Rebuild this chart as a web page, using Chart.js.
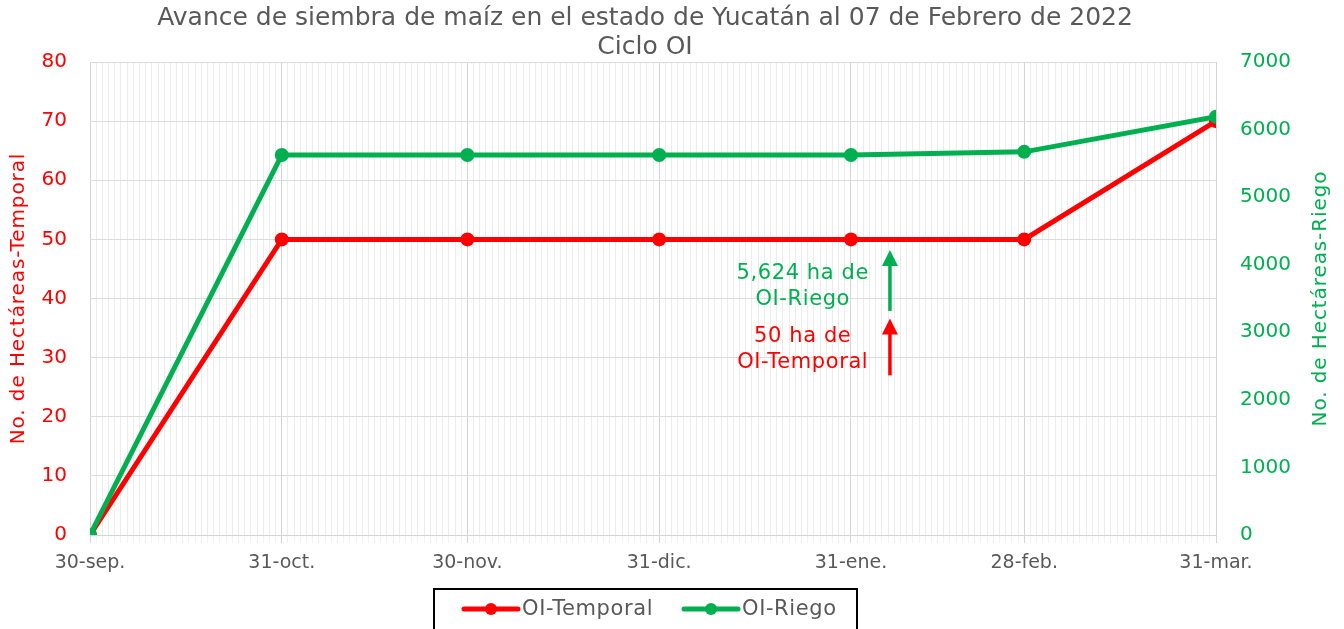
<!DOCTYPE html>
<html>
<head>
<meta charset="utf-8">
<script src="https://cdn.jsdelivr.net/npm/chart.js@4.4.1/dist/chart.umd.min.js"></script>
<style>
  html, body { margin: 0; padding: 0; background: #fff; }
  #wrap { width: 1344px; height: 629px; position: relative; }
</style>
</head>
<body>
<div id="wrap"><canvas id="chart"></canvas></div>
<script>
// days counted from 30-sep
const dayValues = [0, 31, 61, 92, 123, 151, 182];
const dayLabels = ['30-sep.', '31-oct.', '30-nov.', '31-dic.', '31-ene.', '28-feb.', '31-mar.'];
const temporal = [0, 50, 50, 50, 50, 50, 70];
const riego = [0, 5624, 5624, 5624, 5624, 5670, 6190];
const leftTicks = [0, 10, 20, 30, 40, 50, 60, 70, 80];
const rightTicks = [0, 1000, 2000, 3000, 4000, 5000, 6000, 7000];
const titleLines = ['Avance de siembra de maíz en el estado de Yucatán al 07 de Febrero de 2022', 'Ciclo OI'];

const RED = '#ff0000';
const GREEN = '#00b050';
const GRAY = '#595959';
const FONT = '"DejaVu Sans", sans-serif';

const extras = {
  id: 'extras',
  afterDatasetsDraw(chart) {
    const ctx = chart.ctx;
    const x = chart.scales.x, y = chart.scales.y;
    ctx.save();
    ctx.font = '21px ' + FONT;
    ctx.letterSpacing = '0.6px';
    ctx.textAlign = 'center';
    ctx.textBaseline = 'middle';
    const tx = x.getPixelForValue(115.2);
    ctx.fillStyle = GREEN;
    ctx.fillText('5,624 ha de', tx, y.getPixelForValue(44.3));
    ctx.fillText('OI-Riego', tx, y.getPixelForValue(39.9));
    ctx.fillStyle = RED;
    ctx.fillText('50 ha de', tx, y.getPixelForValue(33.5));
    ctx.fillText('OI-Temporal', tx, y.getPixelForValue(29.1));

    const ax = x.getPixelForValue(129.3);
    function arrow(color, from, to) {
      const y0 = y.getPixelForValue(from), y1 = y.getPixelForValue(to);
      ctx.strokeStyle = color;
      ctx.fillStyle = color;
      ctx.lineWidth = 3.5;
      ctx.beginPath();
      ctx.moveTo(ax, y0);
      ctx.lineTo(ax, y1 + 12);
      ctx.stroke();
      ctx.beginPath();
      ctx.moveTo(ax, y1);
      ctx.lineTo(ax - 8, y1 + 16);
      ctx.lineTo(ax + 8, y1 + 16);
      ctx.closePath();
      ctx.fill();
    }
    arrow(GREEN, 37.9, 48.2);
    arrow(RED, 27, 36.6);
    ctx.restore();
  },
  afterDraw(chart) {
    const ctx = chart.ctx;
    const yl = chart.scales.y, yr = chart.scales.y1;
    ctx.save();
    ctx.textAlign = 'center';
    ctx.textBaseline = 'middle';
    ctx.fillStyle = GRAY;
    ctx.font = '25px ' + FONT;
    ctx.fillText(titleLines[0], 645, 18);
    ctx.fillText(titleLines[1], 645, 47);

    ctx.font = '20px ' + FONT;
    ctx.letterSpacing = '0.9px';
    ctx.save();
    ctx.translate(19, (yl.top + yl.bottom) / 2);
    ctx.rotate(-Math.PI / 2);
    ctx.fillStyle = RED;
    ctx.fillText('No. de Hectáreas-Temporal', 0, 0);
    ctx.restore();

    ctx.save();
    ctx.translate(1321, (yr.top + yr.bottom) / 2);
    ctx.rotate(-Math.PI / 2);
    ctx.fillStyle = GREEN;
    ctx.fillText('No. de Hectáreas-Riego', 0, 0);
    ctx.restore();

    // legend
    ctx.strokeStyle = '#000';
    ctx.lineWidth = 2;
    ctx.strokeRect(434, 589, 423, 60);
    const items = [
      { label: 'OI-Temporal', color: RED, x: 464 },
      { label: 'OI-Riego', color: GREEN, x: 684 }
    ];
    ctx.font = '21px ' + FONT;
    ctx.letterSpacing = '0.6px';
    ctx.textAlign = 'left';
    items.forEach(it => {
      const ly = 609;
      ctx.strokeStyle = it.color;
      ctx.fillStyle = it.color;
      ctx.lineWidth = 5;
      ctx.lineCap = 'round';
      ctx.beginPath();
      ctx.moveTo(it.x, ly);
      ctx.lineTo(it.x + 54, ly);
      ctx.stroke();
      ctx.beginPath();
      ctx.arc(it.x + 27, ly, 6, 0, Math.PI * 2);
      ctx.fill();
      ctx.fillStyle = GRAY;
      ctx.fillText(it.label, it.x + 58, ly + 1);
    });
    ctx.restore();
  }
};

const ctx = document.getElementById('chart').getContext('2d');
new Chart(ctx, {
  type: 'line',
  data: {
    datasets: [
      {
        label: 'OI-Temporal',
        data: dayValues.map((d, i) => ({ x: d, y: temporal[i] })),
        borderColor: RED,
        backgroundColor: RED,
        borderWidth: 5,
        pointRadius: 7,
        pointHoverRadius: 7,
        pointBorderWidth: 0,
        yAxisID: 'y',
        order: 1
      },
      {
        label: 'OI-Riego',
        data: dayValues.map((d, i) => ({ x: d, y: riego[i] })),
        borderColor: GREEN,
        backgroundColor: GREEN,
        borderWidth: 5,
        pointRadius: 7,
        pointHoverRadius: 7,
        pointBorderWidth: 0,
        yAxisID: 'y1',
        order: 0
      }
    ]
  },
  options: {
    responsive: true,
    maintainAspectRatio: false,
    animation: false,
    layout: { padding: { top: 62, bottom: 54, left: 0, right: 0 } },
    plugins: {
      legend: { display: false },
      title: { display: false },
      tooltip: { enabled: false }
    },
    scales: {
      x: {
        type: 'linear',
        min: 0,
        max: 182,
        afterBuildTicks: (scale) => {
          const t = [];
          for (let d = 0; d <= 182; d++) t.push({ value: d });
          scale.ticks = t;
        },
        afterFit: (scale) => { scale.height = 40; },
        ticks: {
          autoSkip: false,
          maxRotation: 0,
          minRotation: 0,
          padding: 9,
          color: GRAY,
          font: { family: FONT, size: 19 },
          callback: (v) => {
            const i = dayValues.indexOf(v);
            return i >= 0 ? dayLabels[i] : '';
          }
        },
        grid: {
          color: (c) => dayValues.includes(c.tick && c.tick.value) ? '#d4d4d4' : '#ececec',
          tickColor: (c) => dayValues.includes(c.tick && c.tick.value) ? '#d4d4d4' : '#f2f2f2',
          tickLength: 8,
          lineWidth: 1
        },
        border: { color: '#d4d4d4' }
      },
      y: {
        position: 'left',
        min: 0,
        max: 80,
        afterBuildTicks: (scale) => { scale.ticks = leftTicks.map(v => ({ value: v })); },
        afterFit: (scale) => { scale.width = 90; },
        ticks: {
          padding: 23,
          color: RED,
          font: { family: FONT, size: 20 }
        },
        grid: { color: '#dcdcdc', drawTicks: false },
        border: { display: false }
      },
      y1: {
        position: 'right',
        min: 0,
        max: 7000,
        afterBuildTicks: (scale) => { scale.ticks = rightTicks.map(v => ({ value: v })); },
        afterFit: (scale) => { scale.width = 128; },
        ticks: {
          padding: 24,
          color: GREEN,
          font: { family: FONT, size: 20 },
          callback: (v) => String(v)
        },
        grid: { drawOnChartArea: false, drawTicks: false },
        border: { display: false }
      }
    }
  },
  plugins: [extras]
});
</script>
</body>
</html>
